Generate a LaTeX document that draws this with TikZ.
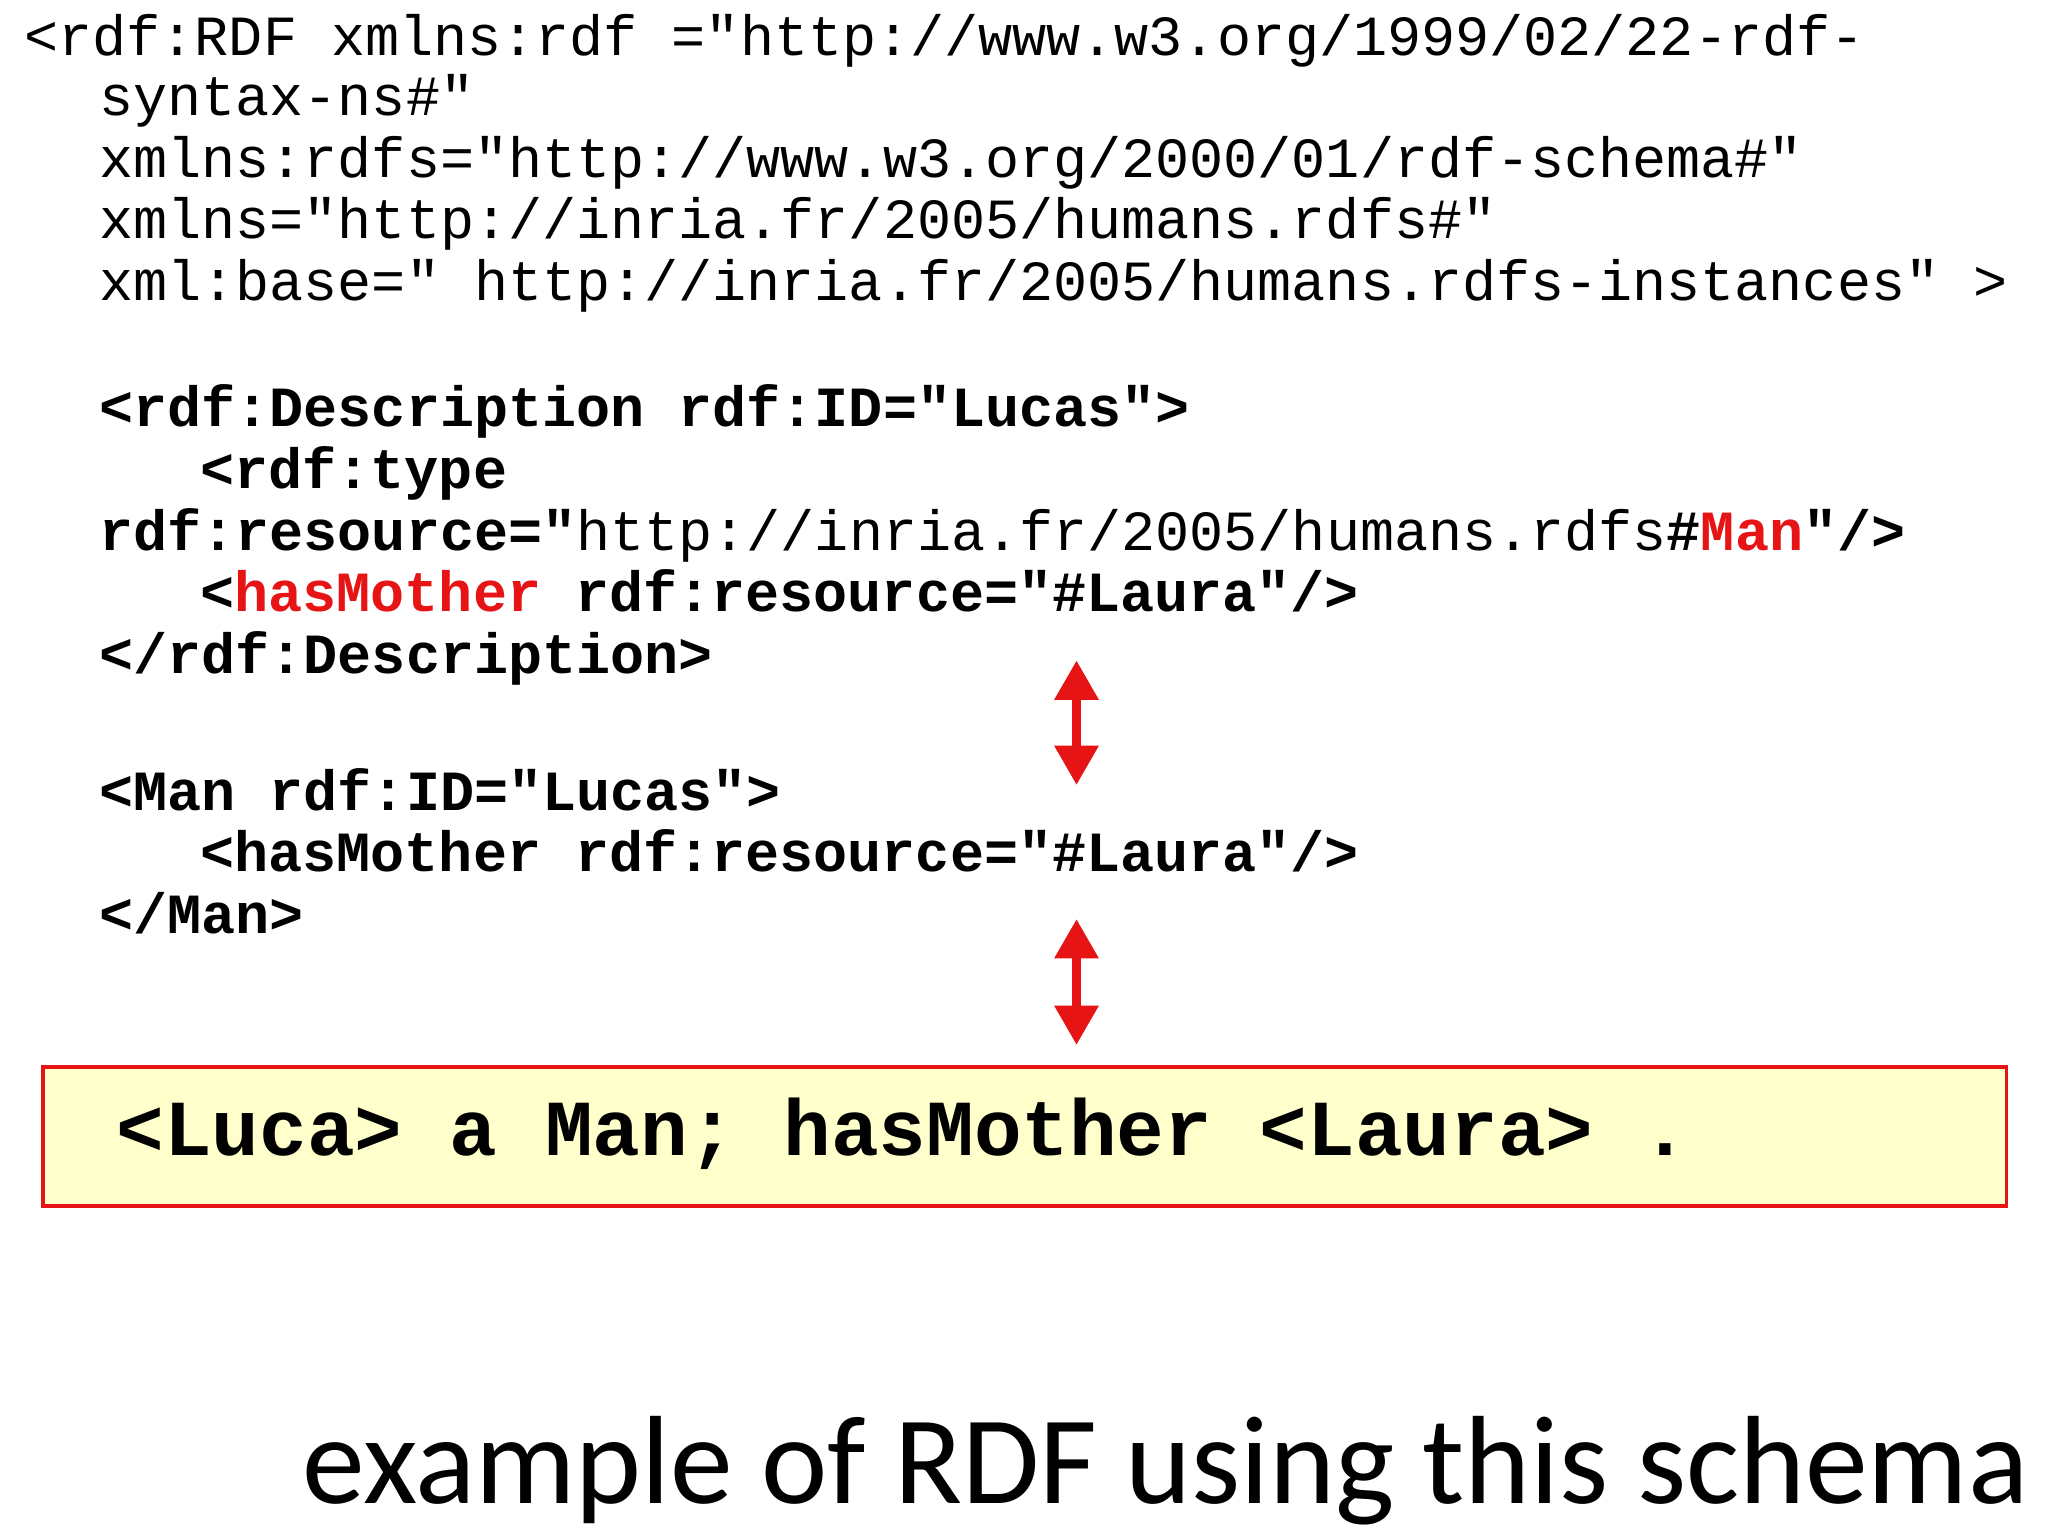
\documentclass[tikz,border=0pt]{standalone}
\usepackage{fontspec}
\setmonofont{Liberation Mono}
\newfontfamily\capfont{Carlito}
\usetikzlibrary{arrows.meta}
\definecolor{rdred}{RGB}{230,20,20}
\definecolor{boxfill}{RGB}{255,255,204}
\begin{document}
\begin{tikzpicture}[x=0.01cm,y=-0.01cm,
  code/.style={anchor=base west,inner sep=0pt,font=\ttfamily\fontsize{12.3}{14}\selectfont},
  bcode/.style={code,font=\ttfamily\bfseries\fontsize{12.3}{14}\selectfont},
  dbl/.style={rdred,line width=0.07cm,{Triangle[length=0.3cm,width=0.32cm]}-{Triangle[length=0.3cm,width=0.32cm]}}]
\useasboundingbox (0,0) rectangle (1560,1170);
\node[code] (l1) at (18,42) {<rdf:RDF xmlns:rdf ="http://www.w3.org/1999/02/22-rdf-};
\node[code] (l2) at (75,88) {syntax-ns\#"};
\node[code] (l3) at (75,135) {xmlns:rdfs="http://www.w3.org/2000/01/rdf-schema\#"};
\node[code] (l4) at (75,182) {xmlns="http://inria.fr/2005/humans.rdfs\#"};
\node[code] (l5) at (75,229) {xml:base=" http://inria.fr/2005/humans.rdfs-instances" >};
\node[bcode] (d1) at (75,325) {<rdf:Description rdf:ID="Lucas">};
\node[bcode] (d2) at (152,372) {<rdf:type};
\node[bcode] (d3) at (75,419) {rdf:resource="\mdseries http://inria.fr/2005/humans.rdfs\bfseries\#\textcolor{rdred}{Man}"/>};
\node[bcode] (d4) at (152,466) {<\textcolor{rdred}{hasMother} rdf:resource="\#Laura"/>};
\node[bcode] (d5) at (75,513) {</rdf:Description>};
\node[bcode] (m1) at (75,617) {<Man rdf:ID="Lucas">};
\node[bcode] (m2) at (152,664) {<hasMother rdf:resource="\#Laura"/>};
\node[bcode] (m3) at (75,711) {</Man>};
\coordinate (a1) at (820,503); \coordinate (a2) at (820,598);
\coordinate (b1) at (820,700); \coordinate (b2) at (820,796);
\draw[dbl] (a1) -- (a2);
\draw[dbl] (b1) -- (b2);
\node[draw=rdred,line width=0.03cm,fill=boxfill,minimum width=14.95cm,minimum height=1.06cm,anchor=north west,inner sep=0pt] (box) at (31,811) {};
\node[anchor=base west,inner sep=0pt,font=\ttfamily\bfseries\fontsize{17.2}{20}\selectfont] (t) at (88,880) {<Luca> a Man; hasMother <Laura> .};
\node[anchor=base east,inner sep=0pt,font=\capfont\fontsize{27.2}{32}\selectfont] (cap) at (1546,1145) {example of RDF using this schema};
\end{tikzpicture}
\end{document}
